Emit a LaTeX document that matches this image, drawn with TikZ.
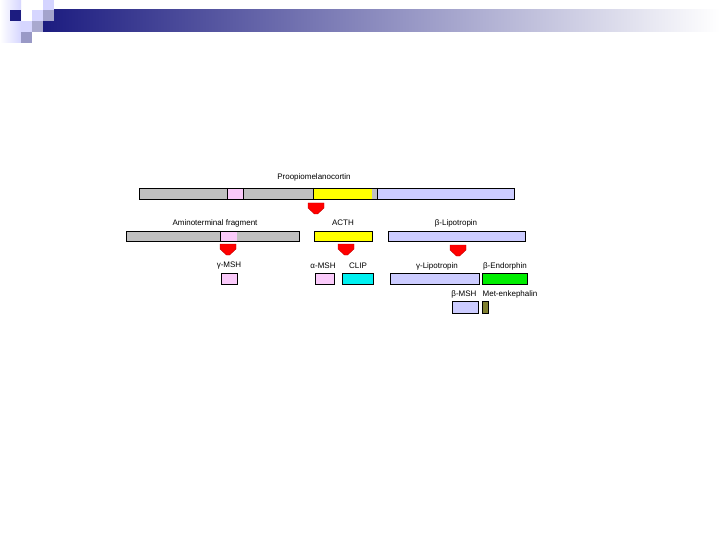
\documentclass[tikz,border=0pt]{standalone}
\usepackage{fontspec}
\setmainfont{Liberation Sans}
\definecolor{navy}{HTML}{1C1C80}
\definecolor{barGrey}{HTML}{C0C0C0}
\definecolor{barPink}{HTML}{FACAFA}
\definecolor{barYellow}{HTML}{FFFF00}
\definecolor{barLav}{HTML}{CCCCFF}
\definecolor{barCyan}{HTML}{00F0F0}
\definecolor{barGreen}{HTML}{00EE00}
\definecolor{barOlive}{HTML}{808030}
\definecolor{arrRed}{HTML}{FF0000}
\definecolor{arrEdge}{HTML}{C00000}
\tikzset{
  seg/.style={draw=black, line width=0.8pt},
  lbl/.style={font=\fontsize{8}{9.6}\selectfont, inner sep=0pt, anchor=center},
  redarrow/.style={fill=arrRed, draw=arrEdge, line width=0.4pt},
}
\newcommand{\blockarrow}[2]{% center x, top y
  \filldraw[redarrow] (#1-8,#2) -- (#1+8,#2) -- (#1+8,#2+5) -- (#1+1.5,#2+11) -- (#1-1.5,#2+11) -- (#1-8,#2+5) -- cycle;}
\begin{document}
\begin{tikzpicture}[x=1pt,y=-1pt]
\useasboundingbox (0,0) rectangle (720,540);
\fill[white] (0,0) rectangle (720,540);
% header decoration
\shade[left color=white, right color=barLav!80] (0,0) rectangle (21,43);
\shade[left color=navy, right color=white] (43,10) rectangle (720,32);
\fill[navy] (10,10) rectangle (21,21);
\fill[barLav!85] (43,0) rectangle (54,10);
\fill[barLav!80] (32,10) rectangle (43,21);
\fill[navy!40] (43,10) rectangle (54,21);
\fill[barLav!80] (21,21) rectangle (32,32);
\fill[navy!38] (32,21) rectangle (43,32);
\fill[navy!45] (21,32) rectangle (32,43);

% row 1: Proopiomelanocortin
\fill[barGrey] (139,188) rectangle (227,199);
\fill[barPink] (227,188) rectangle (243,199);
\fill[barGrey] (243,188) rectangle (313,199);
\fill[barYellow] (313,188) rectangle (372,199);
\fill[barGrey] (372,188) rectangle (377,199);
\fill[barLav] (377,188) rectangle (514,199);
\draw[seg] (139,188) rectangle (514,199);
\draw[seg] (227,188) -- (227,199) (243,188) -- (243,199) (313,188) -- (313,199) (377,188) -- (377,199);
\node[lbl] (pomc) at (314,177) {Proopiomelanocortin};

\blockarrow{316}{203}

% row 2
\fill[barGrey] (126,231) rectangle (299,241);
\fill[barPink] (220,231) rectangle (237,241);
\draw[seg] (126,231) rectangle (299,241);
\draw[seg] (220,231) -- (220,241);
\node[lbl] (amino) at (215,223) {Aminoterminal fragment};

\filldraw[seg, fill=barYellow] (314,231) rectangle (372,241);
\node[lbl] (acth) at (343,223) {ACTH};

\filldraw[seg, fill=barLav] (388,231) rectangle (525,241);
\node[lbl] (blph) at (456,223) {β-Lipotropin};

\blockarrow{228}{244}
\blockarrow{346}{244}
\blockarrow{458}{245}

% row 3
\filldraw[seg, fill=barPink] (221,273) rectangle (237,284);
\node[lbl] (gmsh) at (229,266) {γ-MSH};

\filldraw[seg, fill=barPink] (315,273) rectangle (334,284);
\node[lbl] (amsh) at (323,266) {α-MSH};

\filldraw[seg, fill=barCyan] (342,273) rectangle (373,284);
\node[lbl] (clip) at (358,266) {CLIP};

\filldraw[seg, fill=barLav] (390,273) rectangle (479,284);
\node[lbl] (glph) at (437,266) {γ-Lipotropin};

\filldraw[seg, fill=barGreen] (482,273) rectangle (527,284);
\node[lbl] (bend) at (505,266) {β-Endorphin};

% row 4
\filldraw[seg, fill=barLav] (452,301) rectangle (478,313);
\node[lbl] (bmsh) at (464,294) {β-MSH};

\filldraw[seg, fill=barOlive] (482,301) rectangle (488,313);
\node[lbl] (menk) at (510,294) {Met-enkephalin};
\end{tikzpicture}
\end{document}
